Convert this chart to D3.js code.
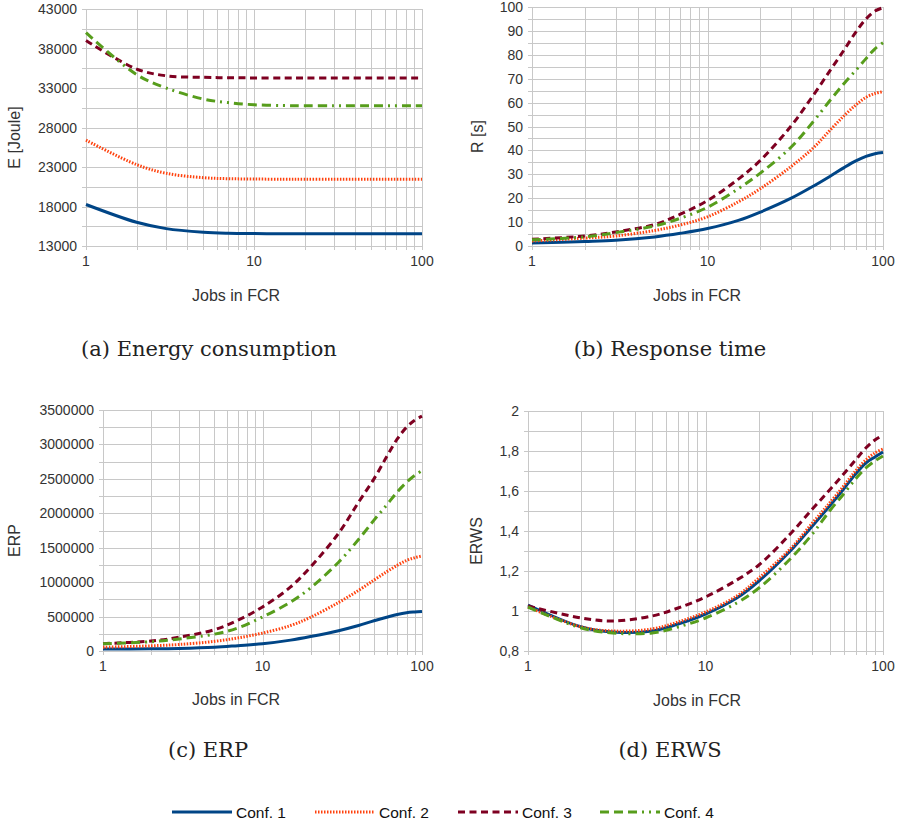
<!DOCTYPE html>
<html lang="en">
<head>
    <meta charset="UTF-8">
    <title>Conf. comparison</title>
    <script src="https://d3js.org/d3.v7.min.js"></script>
    <style>
        body { margin: 0; background: #fff; }
        text { font-family: "Liberation Sans", Arial, sans-serif; fill: #333; }
        .grid line { stroke: #c8c8c8; stroke-width: 1; }
        .tick-label { font-size: 14px; }
        .axis-title { font-size: 16px; }
        .caption { font-family: "DejaVu Serif", serif; font-size: 21px; fill: #222; }
        .legend text { font-size: 15.5px; fill: #111; }
        .series { fill: none; stroke-width: 3; }
    </style>
</head>
<body>
<script>

    var width = 900,
        height = 826;

    // x values (jobs in FCR)
    var jobs = [1, 2, 3, 5, 7, 10, 15, 20, 30, 40, 50, 60, 70, 80, 90, 100];
    var confs = ["Conf. 1", "Conf. 2", "Conf. 3", "Conf. 4"];
    var colors = ["#004586", "#ff420e", "#7e0021", "#579d1c"];
    var dashes = [null, "1.5,1.5", "7,4.5", "9,5,9,5,9,5,2,5,2,5"];

    // (a) energy [Joule]
    var energy1 = [18250, 16000, 15200, 14750, 14620, 14570, 14550, 14550, 14550, 14550, 14550, 14550, 14550, 14550, 14550, 14550];
    var energy2 = [26400, 23300, 22200, 21650, 21520, 21480, 21450, 21450, 21450, 21450, 21450, 21450, 21450, 21450, 21450, 21450];
    var energy3 = [39000, 35400, 34550, 34350, 34300, 34280, 34280, 34280, 34280, 34280, 34280, 34280, 34280, 34280, 34280, 34280];
    var energy4 = [40000, 34700, 33000, 31600, 31150, 30880, 30780, 30750, 30750, 30750, 30750, 30750, 30750, 30750, 30750, 30750];

    // (b) response time [s]
    var resp1 = [1.3, 1.9, 2.4, 3.8, 5.3, 7.3, 10.7, 14.2, 20, 25, 29.2, 32.8, 35.6, 37.5, 38.6, 39.1];
    var resp2 = [2.1, 3.3, 4.2, 6.5, 8.8, 12.2, 18.5, 24, 33.3, 41, 48.5, 54.5, 59, 62.2, 63.8, 64.6];
    var resp3 = [2.8, 4.2, 5.9, 9, 13.3, 19, 28, 35.8, 50.3, 63, 73.5, 82, 89.5, 95, 98.3, 99.7];
    var resp4 = [2.6, 3.8, 5.6, 8.4, 11.6, 16.2, 24, 30.5, 41.4, 52, 61, 68, 73.5, 78.4, 82.5, 85];

    // (c) ERP
    var erp1 = [28000, 32000, 38000, 55000, 78000, 105000, 158000, 210000, 295000, 370000, 440000, 490000, 530000, 555000, 567000, 575000];
    var erp2 = [55000, 75000, 95000, 140000, 190000, 260000, 370000, 490000, 705000, 880000, 1030000, 1150000, 1245000, 1315000, 1355000, 1380000];
    var erp3 = [107000, 145000, 200000, 310000, 446000, 640000, 930000, 1220000, 1710000, 2160000, 2500000, 2820000, 3080000, 3250000, 3350000, 3410000];
    var erp4 = [105000, 135000, 175000, 245000, 335000, 494000, 710000, 916000, 1290000, 1620000, 1900000, 2120000, 2310000, 2450000, 2550000, 2620000];

    // (d) ERWS
    var erws1 = [1.03, 0.92, 0.895, 0.9, 0.935, 0.985, 1.065, 1.15, 1.3, 1.425, 1.525, 1.61, 1.685, 1.74, 1.77, 1.795];
    var erws2 = [1.02, 0.92, 0.9, 0.91, 0.945, 0.995, 1.075, 1.165, 1.31, 1.44, 1.54, 1.625, 1.7, 1.755, 1.79, 1.81];
    var erws3 = [1.025, 0.965, 0.95, 0.975, 1.015, 1.07, 1.155, 1.23, 1.385, 1.51, 1.605, 1.685, 1.755, 1.815, 1.855, 1.88];
    var erws4 = [1.02, 0.915, 0.89, 0.89, 0.92, 0.965, 1.04, 1.115, 1.26, 1.385, 1.5, 1.585, 1.66, 1.715, 1.75, 1.775];

    var xTicks = [1, 10, 100];

    var panels = [
        { left: 86, right: 422, top: 9, bottom: 246, domain: [13000, 43000], step: 5000, minor: 2500,
          fmt: d3.format("d"), ytitle: "E [Joule]", ytx: 14, xtitleY: 301, xtitleX: 236,
          caption: "(a) Energy consumption", capX: 209, capY: 356,
          series: [energy1, energy2, energy3, energy4] },
        { left: 532, right: 883, top: 7, bottom: 246, domain: [0, 100], step: 10, minor: 5,
          fmt: d3.format("d"), ytitle: "R [s]", ytx: 477, xtitleY: 301, xtitleX: 697,
          caption: "(b) Response time", capX: 670, capY: 356,
          series: [resp1, resp2, resp3, resp4] },
        { left: 103, right: 422, top: 410, bottom: 651, domain: [0, 3500000], step: 500000, minor: 250000,
          fmt: d3.format("d"), ytitle: "ERP", ytx: 14, xtitleY: 705, xtitleX: 236,
          caption: "(c) ERP", capX: 208, capY: 757,
          series: [erp1, erp2, erp3, erp4] },
        { left: 528, right: 883, top: 411, bottom: 651, domain: [0.8, 2], step: 0.2, minor: 0.1,
          fmt: function(v) { return d3.format("~g")(+v.toFixed(1)).replace(".", ","); },
          ytitle: "ERWS", ytx: 476, xtitleY: 706, xtitleX: 697,
          caption: "(d) ERWS", capX: 670, capY: 757,
          series: [erws1, erws2, erws3, erws4] }
    ];

    var svg = d3.select("body").append("svg")
        .attr("width", width)
        .attr("height", height);

    panels.forEach(function(p) {
        var x = d3.scaleLog().domain([1, 100]).range([p.left, p.right]);
        var y = d3.scaleLinear().domain(p.domain).range([p.bottom, p.top]);
        var g = svg.append("g");

        // grid
        var grid = g.append("g").attr("class", "grid");
        var minorTicks = d3.range(p.domain[0], p.domain[1] + p.minor / 2, p.minor);
        grid.selectAll(".hy").data(minorTicks).enter().append("line")
            .attr("x1", p.left - 4).attr("x2", p.right)
            .attr("y1", function(d) { return Math.round(y(d)) + 0.5; })
            .attr("y2", function(d) { return Math.round(y(d)) + 0.5; });

        var xGrid = [];
        [1, 10].forEach(function(dec) {
            for (var k = 1; k < 10; k++) xGrid.push(dec * k);
        });
        xGrid.push(100);
        grid.selectAll(".vx").data(xGrid).enter().append("line")
            .attr("y1", p.top).attr("y2", p.bottom + 4)
            .attr("x1", function(d) { return Math.round(x(d)) + 0.5; })
            .attr("x2", function(d) { return Math.round(x(d)) + 0.5; });

        // y tick labels
        var majorTicks = d3.range(p.domain[0], p.domain[1] + p.step / 2, p.step);
        g.selectAll(".yl").data(majorTicks).enter().append("text")
            .attr("class", "tick-label")
            .attr("x", p.left - 9)
            .attr("y", function(d) { return y(d); })
            .attr("dy", "0.36em")
            .style("text-anchor", "end")
            .text(p.fmt);

        // x tick labels
        g.selectAll(".xl").data(xTicks).enter().append("text")
            .attr("class", "tick-label")
            .attr("x", function(d) { return x(d); })
            .attr("y", p.bottom + 20)
            .style("text-anchor", "middle")
            .text(function(d) { return d; });

        // titles
        g.append("text").attr("class", "axis-title")
            .attr("transform", "translate(" + p.ytx + "," + ((p.top + p.bottom) / 2 + 10) + ") rotate(-90)")
            .attr("dy", "0.36em")
            .style("text-anchor", "middle")
            .text(p.ytitle);

        g.append("text").attr("class", "axis-title")
            .attr("x", p.xtitleX).attr("y", p.xtitleY)
            .style("text-anchor", "middle")
            .text("Jobs in FCR");

        g.append("text").attr("class", "caption")
            .attr("x", p.capX).attr("y", p.capY)
            .style("text-anchor", "middle")
            .text(p.caption);

        // series
        var line = d3.line()
            .x(function(d, i) { return x(jobs[i]); })
            .y(function(d) { return y(d); })
            .curve(d3.curveCatmullRom.alpha(0.5));

        g.selectAll(".series").data(p.series).enter().append("path")
            .attr("class", "series")
            .attr("d", line)
            .attr("stroke", function(d, i) { return colors[i]; })
            .attr("stroke-dasharray", function(d, i) { return dashes[i]; });
    });

    // legend
    var legendX = [172, 315, 458, 600];
    var legend = svg.append("g").attr("class", "legend");
    confs.forEach(function(name, i) {
        legend.append("line")
            .attr("x1", legendX[i]).attr("x2", legendX[i] + 60)
            .attr("y1", 812).attr("y2", 812)
            .attr("stroke", colors[i])
            .attr("stroke-width", 3)
            .attr("stroke-dasharray", dashes[i]);
        legend.append("text")
            .attr("x", legendX[i] + 64).attr("y", 812)
            .attr("dy", "0.36em")
            .text(name);
    });

</script>
</body>
</html>
